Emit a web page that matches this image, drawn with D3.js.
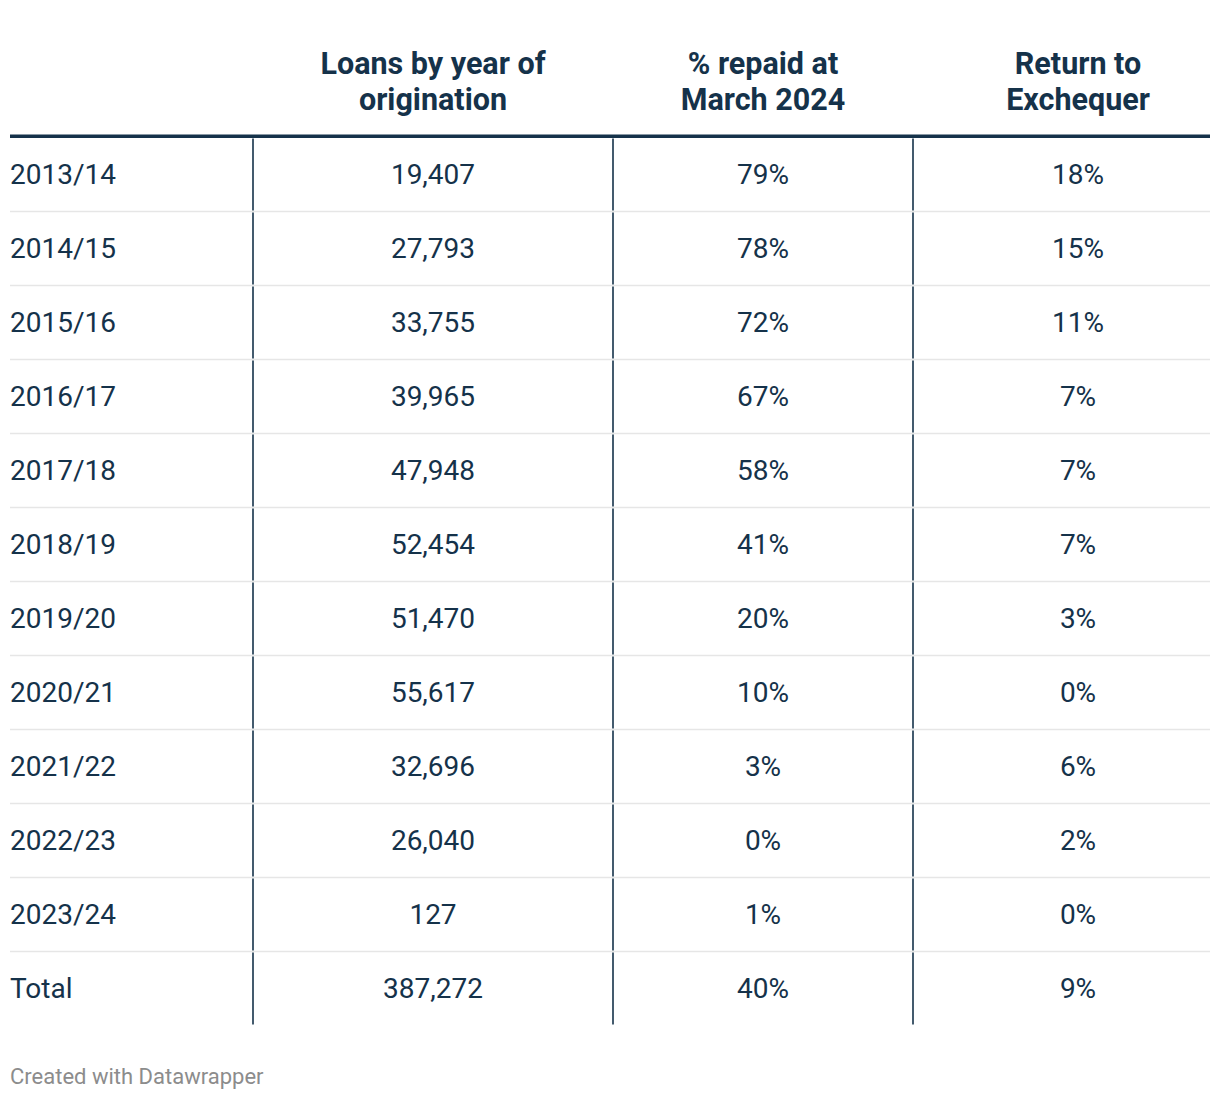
<!DOCTYPE html>
<html><head><meta charset="utf-8">
<script src="https://cdn.jsdelivr.net/npm/d3@7"></script>
<style>body{margin:0;background:#fff;} text{font-family:Roboto,sans-serif;}</style>
</head><body><svg id="c" width="1220" height="1100"></svg>
<script>
const years = ["2013/14","2014/15","2015/16","2016/17","2017/18","2018/19","2019/20","2020/21","2021/22","2022/23","2023/24","Total"];
const loans = ["19,407","27,793","33,755","39,965","47,948","52,454","51,470","55,617","32,696","26,040","127","387,272"];
const repaid = ["79%","78%","72%","67%","58%","41%","20%","10%","3%","0%","1%","40%"];
const returnEx = ["18%","15%","11%","7%","7%","7%","3%","0%","6%","2%","0%","9%"];
const headers = [[""],["Loans by year of","origination"],["% repaid at","March 2024"],["Return to","Exchequer"]];

(function(){
const svg = d3.select("#c");
const navy = "#15324a";
const tableTop = 137, rowH = 74;
const y = d3.scaleBand().domain(years).range([tableTop, tableTop + rowH*years.length]);
const colEdges = [10, 253, 613, 913, 1210];
const colCenters = [10, 433, 763, 1078];

headers.forEach((h,i)=>{
  h.forEach((line,j)=>{
    svg.append("text").attr("x",colCenters[i]).attr("y",74 + j*36)
      .attr("text-anchor","middle").attr("font-size",30.5).attr("font-weight",700)
      .attr("fill",navy).text(line);
  });
});
svg.append("rect").attr("x",10).attr("y",134.5).attr("width",1200).attr("height",3.5).attr("fill",navy);

years.slice(1).forEach(d=>{
  svg.append("line").attr("x1",10).attr("x2",1210).attr("y1",y(d)+0.5).attr("y2",y(d)+0.5)
    .attr("stroke","#e6e6e6").attr("stroke-width",1.5);
});
years.forEach(d=>{
  [1,2,3].forEach(k=>{
    svg.append("line").attr("x1",colEdges[k]).attr("x2",colEdges[k])
      .attr("y1",y(d)+1.5).attr("y2",y(d)+rowH-0.5)
      .attr("stroke",navy).attr("stroke-width",1.6);
  });
});
const cols = [years, loans, repaid, returnEx];
years.forEach((d,r)=>{
  cols.forEach((arr,i)=>{
    svg.append("text").attr("x",colCenters[i]).attr("y",y(d)+rowH/2+10)
      .attr("text-anchor", i===0?"start":"middle").attr("font-size",28)
      .attr("fill",navy).text(arr[r]);
  });
});
svg.append("text").attr("x",10).attr("y",1084).attr("font-size",22).attr("fill","#8c8c8c").text("Created with Datawrapper");
})();
</script></body></html>
